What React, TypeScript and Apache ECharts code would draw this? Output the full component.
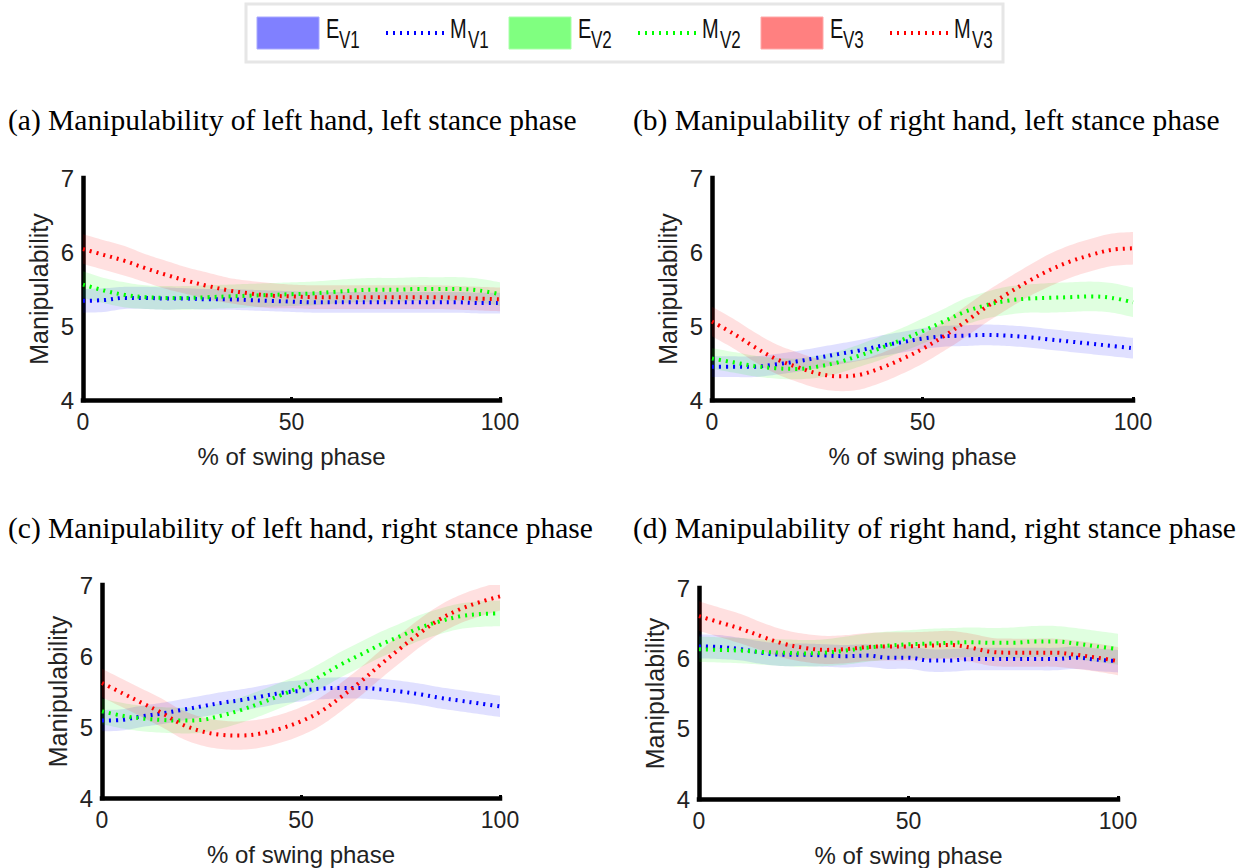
import React, { useEffect, useRef } from "react";
import * as echarts from "echarts";

// ---------- data ----------
const xs = [0, 5, 10, 15, 20, 25, 30, 35, 40, 45, 50, 55, 60, 65, 70, 75, 80, 85, 90, 95, 100];
const xTicks = [0, 50, 100];
const yTicks = [4, 5, 6, 7];

const titles = [
  "(a) Manipulability of left hand, left stance phase",
  "(b) Manipulability of right hand, left stance phase",
  "(c) Manipulability of left hand, right stance phase",
  "(d) Manipulability of right hand, right stance phase",
];
const xName = "% of swing phase";
const yName = "Manipulability";

// legend labels: [main, subscript]
const legendE = [["E", "V1"], ["E", "V2"], ["E", "V3"]];
const legendM = [["M", "V1"], ["M", "V2"], ["M", "V3"]];

// panel (a) means (M) and half band widths (E)
const aM1 = [5.34, 5.35, 5.38, 5.38, 5.37, 5.37, 5.36, 5.36, 5.35, 5.34, 5.33, 5.32, 5.32, 5.32, 5.32, 5.32, 5.32, 5.32, 5.32, 5.31, 5.31];
const aM2 = [5.56, 5.48, 5.42, 5.39, 5.38, 5.38, 5.39, 5.40, 5.41, 5.42, 5.43, 5.44, 5.46, 5.48, 5.49, 5.49, 5.50, 5.50, 5.50, 5.48, 5.43];
const aM3 = [6.04, 5.96, 5.88, 5.78, 5.69, 5.61, 5.54, 5.48, 5.44, 5.41, 5.40, 5.39, 5.39, 5.39, 5.39, 5.39, 5.39, 5.39, 5.38, 5.37, 5.36];
const aS1 = [0.16, 0.16, 0.15, 0.15, 0.15, 0.14, 0.14, 0.14, 0.14, 0.14, 0.14, 0.14, 0.14, 0.14, 0.14, 0.14, 0.14, 0.14, 0.14, 0.14, 0.14];
const aS2 = [0.18, 0.17, 0.17, 0.16, 0.16, 0.16, 0.16, 0.16, 0.16, 0.16, 0.16, 0.16, 0.16, 0.16, 0.16, 0.16, 0.16, 0.16, 0.16, 0.16, 0.16];
const aS3 = [0.20, 0.20, 0.20, 0.19, 0.19, 0.18, 0.18, 0.17, 0.17, 0.17, 0.16, 0.16, 0.16, 0.16, 0.16, 0.16, 0.16, 0.16, 0.16, 0.16, 0.16];

// panel (b)
const bM1 = [4.45, 4.45, 4.45, 4.48, 4.52, 4.57, 4.62, 4.67, 4.73, 4.78, 4.83, 4.86, 4.87, 4.88, 4.87, 4.85, 4.82, 4.79, 4.76, 4.73, 4.70];
const bM2 = [4.56, 4.51, 4.46, 4.43, 4.42, 4.45, 4.51, 4.60, 4.70, 4.81, 4.93, 5.06, 5.19, 5.28, 5.34, 5.37, 5.38, 5.39, 5.40, 5.38, 5.32];
const bM3 = [5.06, 4.90, 4.72, 4.56, 4.45, 4.36, 4.32, 4.34, 4.43, 4.55, 4.69, 4.86, 5.05, 5.25, 5.43, 5.60, 5.75, 5.87, 5.96, 6.03, 6.05];
const bS1 = [0.14, 0.14, 0.14, 0.14, 0.14, 0.14, 0.14, 0.14, 0.14, 0.14, 0.14, 0.14, 0.14, 0.14, 0.14, 0.14, 0.14, 0.14, 0.14, 0.14, 0.14];
const bS2 = [0.14, 0.14, 0.14, 0.14, 0.14, 0.15, 0.15, 0.15, 0.16, 0.16, 0.17, 0.17, 0.18, 0.18, 0.19, 0.19, 0.20, 0.20, 0.20, 0.20, 0.20];
const bS3 = [0.20, 0.20, 0.20, 0.20, 0.20, 0.20, 0.20, 0.20, 0.20, 0.20, 0.20, 0.20, 0.21, 0.21, 0.21, 0.21, 0.22, 0.22, 0.22, 0.22, 0.22];

// panel (c)
const cM1 = [5.09, 5.10, 5.15, 5.19, 5.24, 5.29, 5.34, 5.38, 5.43, 5.48, 5.51, 5.54, 5.55, 5.55, 5.53, 5.50, 5.46, 5.41, 5.37, 5.33, 5.29];
const cM2 = [5.22, 5.16, 5.12, 5.10, 5.09, 5.10, 5.16, 5.24, 5.34, 5.45, 5.57, 5.72, 5.88, 6.02, 6.16, 6.28, 6.40, 6.49, 6.56, 6.59, 6.60];
const cM3 = [5.62, 5.48, 5.34, 5.20, 5.04, 4.94, 4.89, 4.88, 4.91, 4.98, 5.08, 5.22, 5.42, 5.64, 5.88, 6.11, 6.33, 6.52, 6.66, 6.76, 6.84];
const cS1 = [0.15, 0.15, 0.15, 0.15, 0.15, 0.15, 0.15, 0.15, 0.15, 0.15, 0.15, 0.15, 0.15, 0.15, 0.15, 0.15, 0.15, 0.15, 0.15, 0.15, 0.15];
const cS2 = [0.18, 0.18, 0.18, 0.18, 0.18, 0.18, 0.18, 0.18, 0.18, 0.18, 0.18, 0.18, 0.18, 0.18, 0.18, 0.18, 0.18, 0.18, 0.18, 0.18, 0.18];
const cS3 = [0.20, 0.20, 0.20, 0.20, 0.20, 0.20, 0.20, 0.20, 0.20, 0.20, 0.20, 0.20, 0.20, 0.20, 0.20, 0.20, 0.20, 0.20, 0.20, 0.20, 0.20];

// panel (d)
const dM1 = [6.17, 6.16, 6.13, 6.08, 6.05, 6.05, 6.04, 6.03, 6.04, 6.01, 6.01, 5.97, 5.97, 5.99, 5.99, 5.99, 5.99, 5.99, 6.01, 5.98, 5.96];
const dM2 = [6.13, 6.12, 6.11, 6.09, 6.08, 6.07, 6.08, 6.11, 6.15, 6.18, 6.20, 6.21, 6.22, 6.23, 6.22, 6.22, 6.24, 6.24, 6.21, 6.17, 6.13];
const dM3 = [6.60, 6.51, 6.42, 6.31, 6.21, 6.15, 6.12, 6.13, 6.16, 6.17, 6.17, 6.18, 6.19, 6.15, 6.09, 6.08, 6.08, 6.08, 6.05, 6.01, 5.96];
const dS1 = [0.17, 0.17, 0.16, 0.16, 0.16, 0.16, 0.16, 0.16, 0.16, 0.16, 0.16, 0.16, 0.16, 0.16, 0.16, 0.16, 0.16, 0.16, 0.16, 0.16, 0.16];
const dS2 = [0.18, 0.18, 0.18, 0.18, 0.19, 0.19, 0.19, 0.20, 0.20, 0.20, 0.20, 0.21, 0.21, 0.21, 0.21, 0.22, 0.22, 0.22, 0.22, 0.22, 0.22];
const dS3 = [0.21, 0.21, 0.21, 0.20, 0.20, 0.20, 0.20, 0.20, 0.20, 0.20, 0.20, 0.20, 0.20, 0.20, 0.20, 0.20, 0.20, 0.20, 0.20, 0.20, 0.20];

const panelMeans = [[aM1, aM2, aM3], [bM1, bM2, bM3], [cM1, cM2, cM3], [dM1, dM2, dM3]];
const panelSpreads = [[aS1, aS2, aS3], [bS1, bS2, bS3], [cS1, cS2, cS3], [dS1, dS2, dS3]];

// ---------- styles ----------
const lineColors = ["#0000ff", "#00ff00", "#ff0000"];
const bandColors = ["rgba(0,0,255,0.12)", "rgba(0,255,0,0.12)", "rgba(255,0,0,0.12)"];
const patchColors = ["#8080ff", "#80ff80", "#ff8080"];
const patchBorders = ["#a8a8ff", "#a8ffa8", "#ffa8a8"];

const gridBoxes = [
  { left: 83, top: 178, width: 417, height: 222 },
  { left: 712, top: 178, width: 421, height: 222 },
  { left: 102, top: 585, width: 398, height: 213 },
  { left: 699, top: 588, width: 419, height: 212 },
];
const titlePos = [
  { left: 8, top: 105 },
  { left: 633, top: 105 },
  { left: 8, top: 513 },
  { left: 633, top: 513 },
];

const SANS = "'Liberation Sans', Arial, sans-serif";
const SERIF = "'Liberation Serif', 'Times New Roman', serif";

// Catmull-Rom smoothing of pixel points (drawing only)
function smoothPts(pts: number[][], seg = 8): number[][] {
  const out: number[][] = [];
  const n = pts.length;
  for (let i = 0; i < n - 1; i++) {
    const p0 = pts[Math.max(0, i - 1)];
    const p1 = pts[i];
    const p2 = pts[i + 1];
    const p3 = pts[Math.min(n - 1, i + 2)];
    for (let j = 0; j < seg; j++) {
      const t = j / seg;
      const t2 = t * t;
      const t3 = t2 * t;
      const f = (a: number, b: number, c: number, d: number) =>
        0.5 * (2 * b + (-a + c) * t + (2 * a - 5 * b + 4 * c - d) * t2 + (-a + 3 * b - 3 * c + d) * t3);
      out.push([f(p0[0], p1[0], p2[0], p3[0]), f(p0[1], p1[1], p2[1], p3[1])]);
    }
  }
  out.push(pts[n - 1]);
  return out;
}

function buildOption() {
  const grid: any[] = [];
  const xAxis: any[] = [];
  const yAxis: any[] = [];
  const series: any[] = [];
  const title: any[] = [];

  gridBoxes.forEach((g, p) => {
    grid.push({ ...g, containLabel: false });
    title.push({
      text: titles[p],
      left: titlePos[p].left,
      top: titlePos[p].top,
      padding: 0,
      textStyle: { fontFamily: SERIF, fontSize: 29.5, fontWeight: "normal", color: "#000" },
    });
    xAxis.push({
      type: "value",
      gridIndex: p,
      min: xTicks[0],
      max: xTicks[xTicks.length - 1],
      interval: xTicks[1] - xTicks[0],
      name: xName,
      nameLocation: "middle",
      nameGap: 44,
      nameTextStyle: { fontFamily: SANS, fontSize: 24, color: "#222" },
      axisLine: { show: true, onZero: false, lineStyle: { color: "#000", width: 4.5, cap: "square" } },
      axisTick: { show: true, inside: true, length: 3, lineStyle: { color: "#000", width: 3 } },
      axisLabel: { fontFamily: SANS, fontSize: 23, color: "#222", margin: 10 },
      splitLine: { show: false },
    });
    yAxis.push({
      type: "value",
      gridIndex: p,
      min: yTicks[0],
      max: yTicks[yTicks.length - 1],
      interval: yTicks[1] - yTicks[0],
      name: yName,
      nameLocation: "middle",
      nameRotate: 90,
      nameGap: 32,
      nameTextStyle: { fontFamily: SANS, fontSize: 25, color: "#222" },
      axisLine: { show: true, onZero: false, lineStyle: { color: "#000", width: 4.5, cap: "square" } },
      axisTick: { show: false },
      axisLabel: { fontFamily: SANS, fontSize: 24, color: "#222", margin: 9, padding: [10, 0, 0, 0] },
      splitLine: { show: false },
    });

    // uncertainty bands (E)
    panelMeans[p].forEach((m, k) => {
      const s = panelSpreads[p][k];
      const lo = m.map((v, i) => v - s[i]);
      const hi = m.map((v, i) => v + s[i]);
      series.push({
        type: "custom",
        xAxisIndex: p,
        yAxisIndex: p,
        silent: true,
        clip: true,
        data: xs.map((x, i) => [x, lo[i], hi[i]]),
        encode: { x: 0, y: [1, 2] },
        renderItem: (params: any, api: any) => {
          if (params.dataIndex !== 0) return null;
          const up = smoothPts(xs.map((x, i) => api.coord([x, hi[i]])));
          const dn = smoothPts(xs.map((x, i) => api.coord([x, lo[i]]))).reverse();
          return {
            type: "polygon",
            shape: { points: up.concat(dn) },
            style: { fill: bandColors[k], stroke: "none" },
          };
        },
      });
    });
    // mean lines (M)
    panelMeans[p].forEach((m, k) => {
      series.push({
        type: "line",
        xAxisIndex: p,
        yAxisIndex: p,
        smooth: 0.35,
        symbol: "none",
        silent: true,
        lineStyle: { color: lineColors[k], width: 4, type: [2, 5], cap: "butt" },
        data: xs.map((x, i) => [x, m[i]]),
      });
    });
  });

  // legend drawn with graphic (needs subscripts)
  const graphic: any[] = [
    {
      type: "rect",
      shape: { x: 246, y: 4, width: 757, height: 58 },
      style: { fill: "#fff", stroke: "#e6e6e6", lineWidth: 3 },
    },
  ];
  const step = 252;
  for (let k = 0; k < 3; k++) {
    const o = k * step;
    graphic.push({
      type: "rect",
      shape: { x: 257 + o, y: 17, width: 62, height: 32 },
      style: { fill: patchColors[k], stroke: patchBorders[k], lineWidth: 1 },
    });
    graphic.push({
      type: "text",
      x: 326 + o,
      y: 14,
      scaleY: 1.4,
      style: { text: legendE[k][0], fontFamily: SANS, fontSize: 20, fill: "#111", verticalAlign: "top" },
    });
    graphic.push({
      type: "text",
      x: 339 + o,
      y: 27,
      scaleY: 1.4,
      style: { text: legendE[k][1], fontFamily: SANS, fontSize: 17, fill: "#111", verticalAlign: "top" },
    });
    graphic.push({
      type: "line",
      shape: { x1: 386 + o, y1: 33, x2: 445 + o, y2: 33 },
      style: { stroke: lineColors[k], lineWidth: 4, lineDash: [2, 5] },
    });
    graphic.push({
      type: "text",
      x: 450 + o,
      y: 14,
      scaleY: 1.4,
      style: { text: legendM[k][0], fontFamily: SANS, fontSize: 20, fill: "#111", verticalAlign: "top" },
    });
    graphic.push({
      type: "text",
      x: 468 + o,
      y: 27,
      scaleY: 1.4,
      style: { text: legendM[k][1], fontFamily: SANS, fontSize: 17, fill: "#111", verticalAlign: "top" },
    });
  }

  return {
    animation: false,
    backgroundColor: "#fff",
    title,
    grid,
    xAxis,
    yAxis,
    series,
    graphic,
  };
}

export default function App() {
  const ref = useRef<HTMLDivElement>(null);
  useEffect(() => {
    if (!ref.current) return;
    const chart = echarts.init(ref.current, undefined, { renderer: "svg" });
    chart.setOption(buildOption());
    return () => chart.dispose();
  }, []);
  return (
    <div
      ref={ref}
      style={{ position: "absolute", left: 0, top: 0, width: 1239, height: 868, background: "#fff" }}
    />
  );
}
